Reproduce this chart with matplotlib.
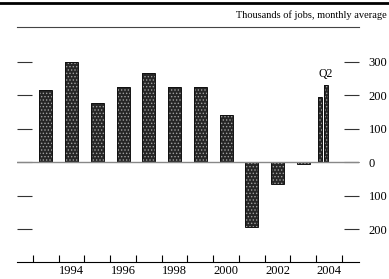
import numpy as np
import matplotlib
matplotlib.use("Agg")
import matplotlib.pyplot as plt
from matplotlib.lines import Line2D

plt.rcParams['font.family'] = ['Liberation Serif', 'DejaVu Serif']
plt.rcParams['hatch.linewidth'] = 0.6

# yearly averages (thousands of jobs per month)
years = [1993, 1994, 1995, 1996, 1997, 1998, 1999, 2000, 2001, 2002, 2003]
jobs = [215, 298, 175, 225, 265, 225, 225, 140, -195, -65, -5]
# 2004 quarters
q_pos = [2004.15, 2004.38]
q_jobs = [195, 230]
q_label = 'Q2'

ytick_vals = [300, 200, 100, 0, -100, -200]
ytick_labels = ['300', '200', '100', '0', '100', '200']
xlabel_years = [1994, 1996, 1998, 2000, 2002, 2004]

fig = plt.figure(figsize=(3.89, 2.79), dpi=100)
ax = fig.add_axes([0.0437, 0.0609, 0.879, 0.842])

bar_kw = dict(color='#262626', edgecolor='#a0a0a0', hatch='.....', linewidth=0)
ax.bar(np.array(years) + 0.5, jobs, width=0.5, **bar_kw)
ax.bar(q_pos, q_jobs, width=0.15, **bar_kw)
# dark outline over the speckle
ax.bar(np.array(years) + 0.5, jobs, width=0.5, fill=False, edgecolor='#111111', linewidth=0.7)
ax.bar(q_pos, q_jobs, width=0.15, fill=False, edgecolor='#111111', linewidth=0.7)
ax.text(q_pos[1], q_jobs[1] + 15, q_label, ha='center', va='bottom', fontsize=8.5)

ax.axhline(0, color='#888888', lw=1.0, zorder=3)

ax.set_xlim(1992.38, 2005.66)
ax.set_ylim(-298, 403)

# y ticks: short dashes on both sides, labels on right
ax.set_yticks(ytick_vals, ytick_labels)
ax.tick_params(axis='y', which='major', direction='in', length=11, width=0.8,
               color='#333333', left=True, right=True, labelleft=False,
               labelright=True, labelsize=9, pad=7)

# x ticks: boundaries as minor ticks, labels centered on years
ax.set_xticks(np.arange(1993, 2006), minor=True)
ax.set_xticks(np.array(xlabel_years) + 0.5, [str(y) for y in xlabel_years])
ax.tick_params(axis='x', which='minor', direction='in', length=5, width=0.8)
ax.tick_params(axis='x', which='major', length=0, labelsize=9, pad=2)

for s in ['left', 'right']:
    ax.spines[s].set_visible(False)
ax.spines['top'].set_color('#444444')
ax.spines['top'].set_linewidth(0.8)
ax.spines['bottom'].set_linewidth(0.8)

fig.text(0.995, 0.945, 'Thousands of jobs, monthly average', ha='right',
         va='center', fontsize=7.5)
fig.add_artist(Line2D([0, 1], [0.99, 0.99], color='black', lw=2,
                      transform=fig.transFigure))

fig.savefig('out.png', dpi=100)
